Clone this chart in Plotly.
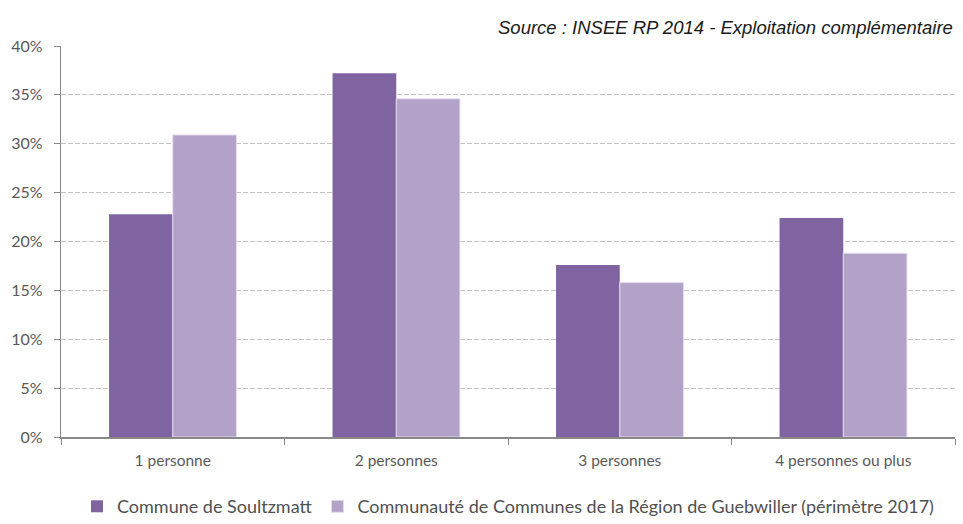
import plotly.graph_objects as go

categories = ["1 personne", "2 personnes", "3 personnes", "4 personnes ou plus"]
soultzmatt = [22.8, 37.2, 17.6, 22.4]
guebwiller = [30.9, 34.6, 15.8, 18.8]
series_names = [
    "Commune de Soultzmatt",
    "Communauté de Communes de la Région de Guebwiller (périmètre 2017)",
]
y_ticks = [0, 5, 10, 15, 20, 25, 30, 35, 40]
y_tick_labels = [f"{v}%" for v in y_ticks]
source_text = "Source : INSEE RP 2014 - Exploitation complémentaire"

fig = go.Figure()
fig.add_trace(go.Bar(
    x=categories, y=soultzmatt, name=series_names[0],
    marker=dict(color="#8064A2", line=dict(width=0)),
))
fig.add_trace(go.Bar(
    x=categories, y=guebwiller, name=series_names[1],
    marker=dict(color="#B3A2C7", line=dict(color="#E6DDF0", width=1)),
))

fig.update_layout(
    width=963, height=524,
    margin=dict(l=61, r=8, t=46, b=87, autoexpand=False),
    paper_bgcolor="white", plot_bgcolor="white",
    barmode="group", bargap=0.43, bargroupgap=0,
    font=dict(family="Lato, sans-serif", color="#595959", size=16),
    showlegend=True,
    legend=dict(
        orientation="h", x=0.5, xanchor="center", y=-0.178, yanchor="middle",
        font=dict(size=18, color="#505050"), itemwidth=30,
        traceorder="normal", tracegroupgap=0,
    ),
    xaxis=dict(
        showgrid=False, showline=True, linecolor="#898989", linewidth=1.5,
        ticks="outside", tickson="boundaries", ticklen=6, tickcolor="#898989",
        tickfont=dict(size=15.5, color="#595959"), ticklabelstandoff=9,
    ),
    yaxis=dict(
        range=[0, 40], tickvals=y_ticks, ticktext=y_tick_labels,
        showline=True, linecolor="#898989", linewidth=1.2,
        ticks="outside", ticklen=6, tickcolor="#898989",
        showgrid=True, gridcolor="#C4C4C4", griddash="5px,2px", gridwidth=1,
        zeroline=False, tickfont=dict(size=16, color="#595959"),
        ticklabelstandoff=8,
    ),
    annotations=[dict(
        text=f"<i>{source_text}</i>",
        xref="paper", yref="paper", x=1, y=1, xanchor="right", yanchor="bottom",
        yshift=6, showarrow=False,
        font=dict(family="Liberation Sans, Arial, sans-serif", size=18.5, color="#1a1a1a"),
    )],
)

fig.write_html("out.html")
